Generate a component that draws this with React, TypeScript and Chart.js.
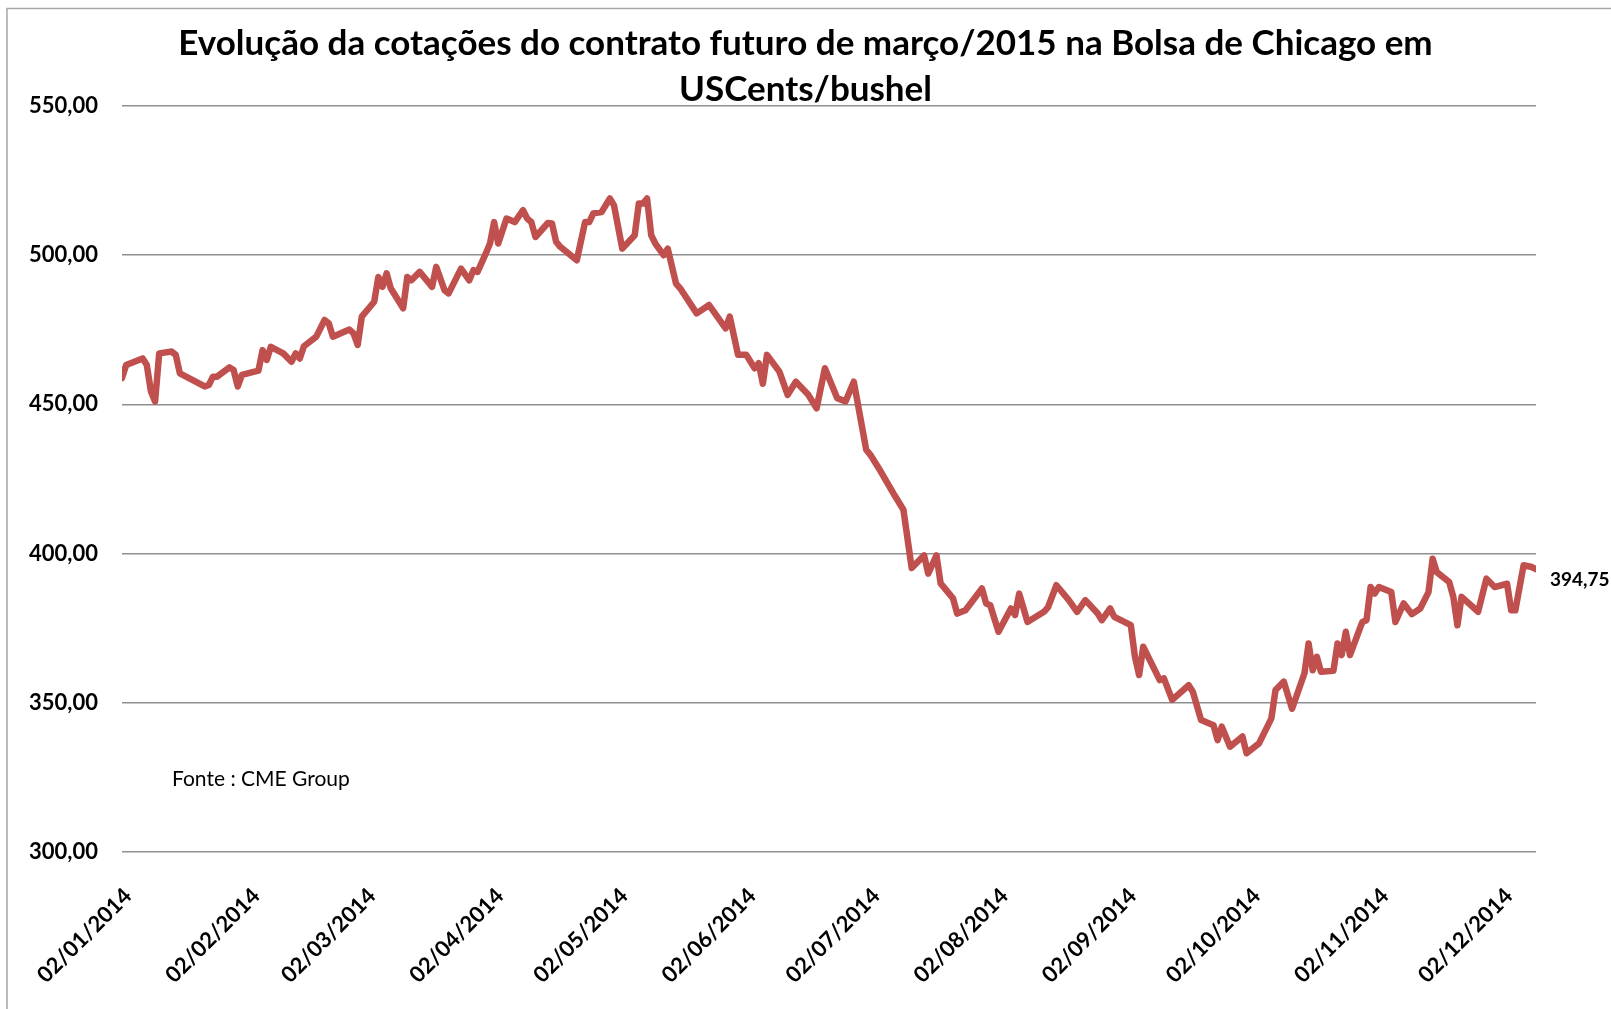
import React, { useEffect, useRef } from 'react';
import { Chart, registerables } from 'chart.js';

Chart.register(...registerables);

const titleLines = [
  'Evolução da cotações do contrato futuro de março/2015 na Bolsa de Chicago em',
  'USCents/bushel',
];
const sourceNote = 'Fonte : CME Group';

const dates = [
  '2014-01-02', '2014-01-03', '2014-01-07', '2014-01-08', '2014-01-09', '2014-01-10', '2014-01-11', '2014-01-14',
  '2014-01-15', '2014-01-16', '2014-01-22', '2014-01-23', '2014-01-24', '2014-01-25', '2014-01-28', '2014-01-29',
  '2014-01-30', '2014-01-31', '2014-02-04', '2014-02-05', '2014-02-06', '2014-02-07', '2014-02-10', '2014-02-12',
  '2014-02-13', '2014-02-14', '2014-02-15', '2014-02-18', '2014-02-20', '2014-02-21', '2014-02-22', '2014-02-26',
  '2014-02-27', '2014-02-28', '2014-03-01', '2014-03-04', '2014-03-05', '2014-03-06', '2014-03-07', '2014-03-08',
  '2014-03-11', '2014-03-12', '2014-03-13', '2014-03-15', '2014-03-18', '2014-03-19', '2014-03-21', '2014-03-22',
  '2014-03-25', '2014-03-27', '2014-03-28', '2014-03-29', '2014-03-31', '2014-04-01', '2014-04-02', '2014-04-03',
  '2014-04-05', '2014-04-07', '2014-04-09', '2014-04-10', '2014-04-11', '2014-04-12', '2014-04-15', '2014-04-16',
  '2014-04-17', '2014-04-18', '2014-04-22', '2014-04-24', '2014-04-25', '2014-04-26', '2014-04-28', '2014-04-30',
  '2014-05-01', '2014-05-03', '2014-05-06', '2014-05-07', '2014-05-08', '2014-05-09', '2014-05-10', '2014-05-11',
  '2014-05-13', '2014-05-14', '2014-05-16', '2014-05-17', '2014-05-21', '2014-05-24', '2014-05-28', '2014-05-29',
  '2014-05-31', '2014-06-02', '2014-06-04', '2014-06-05', '2014-06-06', '2014-06-07', '2014-06-10', '2014-06-12',
  '2014-06-14', '2014-06-17', '2014-06-19', '2014-06-21', '2014-06-24', '2014-06-26', '2014-06-28', '2014-07-01',
  '2014-07-02', '2014-07-04', '2014-07-08', '2014-07-10', '2014-07-12', '2014-07-15', '2014-07-16', '2014-07-18',
  '2014-07-19', '2014-07-22', '2014-07-23', '2014-07-25', '2014-07-29', '2014-07-30', '2014-07-31', '2014-08-02',
  '2014-08-05', '2014-08-06', '2014-08-07', '2014-08-09', '2014-08-13', '2014-08-14', '2014-08-16', '2014-08-19',
  '2014-08-21', '2014-08-23', '2014-08-26', '2014-08-27', '2014-08-29', '2014-08-30', '2014-09-03', '2014-09-04',
  '2014-09-05', '2014-09-06', '2014-09-10', '2014-09-11', '2014-09-13', '2014-09-17', '2014-09-18', '2014-09-20',
  '2014-09-23', '2014-09-24', '2014-09-25', '2014-09-27', '2014-09-30', '2014-10-01', '2014-10-04', '2014-10-07',
  '2014-10-08', '2014-10-10', '2014-10-12', '2014-10-15', '2014-10-16', '2014-10-17', '2014-10-18', '2014-10-19',
  '2014-10-22', '2014-10-23', '2014-10-24', '2014-10-25', '2014-10-26', '2014-10-29', '2014-10-30', '2014-10-31',
  '2014-11-01', '2014-11-02', '2014-11-05', '2014-11-06', '2014-11-08', '2014-11-10', '2014-11-12', '2014-11-14',
  '2014-11-15', '2014-11-16', '2014-11-19', '2014-11-20', '2014-11-21', '2014-11-22', '2014-11-26', '2014-11-28',
  '2014-11-30', '2014-12-03', '2014-12-04', '2014-12-05', '2014-12-07', '2014-12-09', '2014-12-10',
];

const prices = [
  458.8, 463.2, 465.4, 463.2, 454.3, 451.0, 467.1, 467.7,
  466.6, 460.4, 456.0, 456.5, 459.3, 459.3, 462.4, 461.5,
  456.0, 459.9, 461.3, 468.2, 464.9, 469.3, 467.1, 464.3,
  467.1, 465.4, 469.5, 472.7, 478.3, 477.2, 472.7, 475.1,
  473.8, 469.9, 479.4, 484.4, 492.7, 489.4, 493.9, 488.9,
  482.2, 492.7, 491.6, 494.4, 489.4, 496.1, 488.3, 487.2,
  495.5, 491.6, 495.0, 494.4, 500.6, 503.9, 511.1, 503.9,
  512.3, 511.1, 515.1, 512.3, 511.1, 506.1, 510.8, 510.6,
  504.5, 502.8, 498.3, 511.1, 511.1, 514.0, 514.5, 519.0,
  516.7, 502.2, 506.7, 517.3, 517.3, 519.0, 506.7, 503.9,
  500.0, 502.2, 490.5, 488.9, 480.5, 483.3, 475.5, 479.4,
  466.6, 466.6, 462.1, 463.8, 456.9, 466.6, 461.0, 453.2,
  457.6, 453.2, 448.7, 462.1, 452.1, 451.0, 457.6, 434.8,
  433.1, 428.7, 419.2, 414.7, 395.2, 399.4, 393.3, 399.4,
  390.0, 385.0, 379.9, 381.0, 388.3, 383.3, 382.7, 373.8,
  381.6, 379.4, 386.6, 377.1, 380.5, 382.1, 389.4, 384.4,
  380.5, 384.4, 379.9, 377.7, 381.6, 378.8, 376.0, 365.4,
  359.3, 368.8, 357.6, 358.2, 351.0, 355.9, 353.7, 344.2,
  342.5, 337.5, 342.0, 335.3, 338.7, 333.1, 336.4, 344.8,
  354.3, 357.1, 348.0, 359.9, 369.9, 360.9, 365.4, 360.4,
  360.7, 369.9, 366.0, 373.8, 366.0, 377.1, 377.7, 388.8,
  386.6, 388.8, 387.1, 377.1, 383.3, 379.7, 381.6, 387.1,
  398.3, 393.8, 390.5, 385.5, 376.0, 385.5, 380.5, 391.6,
  388.8, 389.9, 381.0, 381.0, 396.1, 395.5, 394.75,
];

const tickDates = [
  '2014-01-02', '2014-02-02', '2014-03-02', '2014-04-02', '2014-05-02', '2014-06-02',
  '2014-07-02', '2014-08-02', '2014-09-02', '2014-10-02', '2014-11-02', '2014-12-02',
];

const yTicks = [300, 350, 400, 450, 500, 550];

const FONT = 'Lato, "Open Sans", sans-serif';
const BASE = Date.UTC(2014, 0, 2);

function dayOffset(s: string): number {
  const [y, m, d] = s.split('-').map(Number);
  return Math.round((Date.UTC(y, m - 1, d) - BASE) / 86400000);
}

function fmtDate(off: number): string {
  const dt = new Date(BASE + Math.round(off) * 86400000);
  const dd = String(dt.getUTCDate()).padStart(2, '0');
  const mm = String(dt.getUTCMonth() + 1).padStart(2, '0');
  return `${dd}/${mm}/${dt.getUTCFullYear()}`;
}

function fmtNum(v: number): string {
  return Number(v).toFixed(2).replace('.', ',');
}

const overlayPlugin = {
  id: 'overlay',
  beforeDraw(chart: any) {
    const { ctx, width, height } = chart;
    ctx.save();
    ctx.fillStyle = '#ffffff';
    ctx.fillRect(0, 0, width, height);
    ctx.strokeStyle = '#a6a6a6';
    ctx.lineWidth = 1.5;
    ctx.beginPath();
    ctx.moveTo(7, height);
    ctx.lineTo(7, 8.5);
    ctx.lineTo(width, 8.5);
    ctx.stroke();
    ctx.restore();
  },
  afterDatasetsDraw(chart: any) {
    const { ctx, chartArea } = chart;
    const meta = chart.getDatasetMeta(0);
    const last = meta.data[meta.data.length - 1];
    ctx.save();
    ctx.fillStyle = '#000';
    ctx.textBaseline = 'middle';
    ctx.textAlign = 'left';
    ctx.font = `bold 19px ${FONT}`;
    ctx.fillText(fmtNum(prices[prices.length - 1]), last.x + 14, last.y + 11);
    ctx.font = `21px ${FONT}`;
    ctx.fillText(sourceNote, chartArea.left + 50, chartArea.top + 673);
    ctx.restore();
  },
};

export default function App() {
  const canvasRef = useRef<HTMLCanvasElement | null>(null);

  useEffect(() => {
    const canvas = canvasRef.current;
    if (!canvas) return;
    const tickOffsets = tickDates.map(dayOffset);
    const chart = new Chart(canvas, {
      type: 'line',
      data: {
        datasets: [
          {
            data: dates.map((d, i) => ({ x: dayOffset(d), y: prices[i] })),
            borderColor: '#C0504D',
            backgroundColor: '#C0504D',
            borderWidth: 6.5,
            pointRadius: 0,
            tension: 0,
            borderJoinStyle: 'round',
            borderCapStyle: 'round',
          },
        ],
      },
      options: {
        responsive: false,
        animation: false,
        layout: { padding: { left: 0, right: 0, top: 0, bottom: 0 } },
        plugins: {
          legend: { display: false },
          tooltip: { enabled: false },
          title: {
            display: true,
            text: titleLines,
            color: '#000',
            font: { family: FONT, weight: 'bold', size: 35, lineHeight: 46 / 35 },
            padding: { top: 21, bottom: -7 },
          },
        },
        scales: {
          x: {
            type: 'linear',
            min: 0,
            max: dayOffset(dates[dates.length - 1]),
            afterBuildTicks: (s: any) => {
              s.ticks = tickOffsets.map((v) => ({ value: v }));
            },
            afterFit: (s: any) => {
              s.height = 157;
              s.paddingRight = 75;
            },
            grid: { display: false, drawTicks: false },
            border: { display: false },
            ticks: {
              autoSkip: false,
              minRotation: 45,
              maxRotation: 45,
              padding: 31,
              labelOffset: 6,
              color: '#000',
              font: { family: FONT, weight: 'bold', size: 22 },
              callback: (v: any) => fmtDate(Number(v)),
            },
          },
          y: {
            min: yTicks[0],
            max: yTicks[yTicks.length - 1],
            afterBuildTicks: (s: any) => {
              s.ticks = yTicks.map((v) => ({ value: v }));
            },
            afterFit: (s: any) => {
              s.width = 122;
            },
            grid: { color: '#8f8f8f', lineWidth: 1.5, drawTicks: false },
            border: { display: false },
            ticks: {
              padding: 24,
              color: '#000',
              font: { family: FONT, weight: 'bold', size: 22 },
              callback: (v: any) => fmtNum(Number(v)),
            },
          },
        },
      },
      plugins: [overlayPlugin],
    } as any);
    return () => chart.destroy();
  }, []);

  return (
    <div style={{ position: 'absolute', left: 0, top: 0, width: 1611, height: 1009, background: '#fff' }}>
      <canvas ref={canvasRef} width={1611} height={1009} style={{ display: 'block' }} />
    </div>
  );
}
